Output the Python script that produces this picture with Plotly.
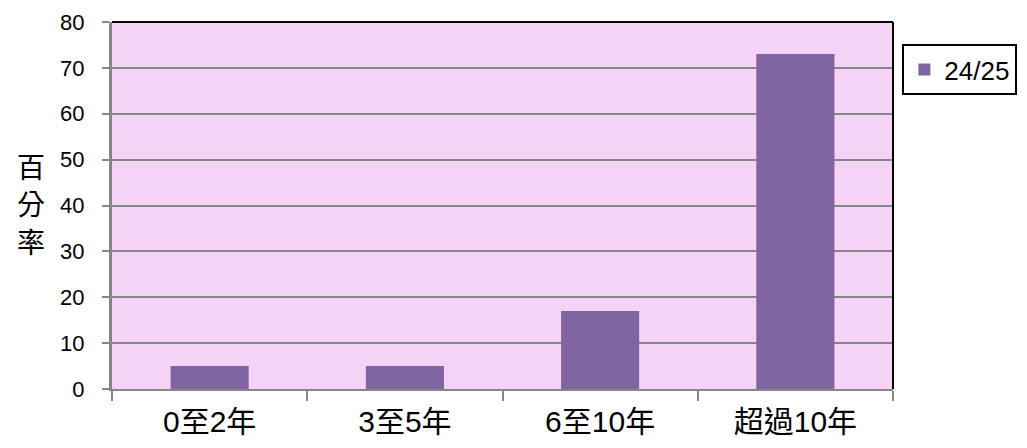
import plotly.graph_objects as go

categories = ["0至2年", "3至5年", "6至10年", "超過10年"]
values_2425 = [5, 5, 17, 73]
series_name = "24/25"
y_ticks = [0, 10, 20, 30, 40, 50, 60, 70, 80]
y_title_chars = ["百", "分", "率"]

font_fam = "Liberation Sans, Noto Sans CJK TC, sans-serif"

fig = go.Figure()
fig.add_trace(go.Bar(
    x=categories, y=values_2425, name=series_name,
    marker=dict(color="#8064A2", line=dict(width=0)),
    showlegend=True,
))

title_y = [0.608, 0.507, 0.403]
annotations = [
    dict(text=ch, xref="paper", yref="paper", x=-0.104, y=yy,
         xanchor="center", yanchor="middle", showarrow=False,
         font=dict(size=28, family="Noto Sans CJK TC"))
    for ch, yy in zip(y_title_chars, title_y)
]

fig.update_layout(
    width=1019, height=440,
    margin=dict(l=104, r=134, t=14, b=59, autoexpand=False),
    paper_bgcolor="white",
    plot_bgcolor="#F5D3F7",
    bargap=0.6,
    font=dict(family=font_fam, color="black"),
    showlegend=True,
    legend=dict(
        x=1.012, y=0.94, xanchor="left", yanchor="top",
        bordercolor="black", borderwidth=2,
        font=dict(size=26, family=font_fam),
        itemwidth=30, tracegroupgap=0,
    ),
    xaxis=dict(
        automargin=False,
        showline=True, linecolor="#868686", linewidth=2,
        ticks="outside", tickson="boundaries", ticklen=10,
        tickcolor="#868686", tickwidth=2,
        tickfont=dict(size=30, family=font_fam),
        ticklabelstandoff=5,
        showgrid=False,
    ),
    yaxis=dict(
        automargin=False,
        range=[0, 80], tickvals=y_ticks,
        showline=True, linecolor="#868686", linewidth=3,
        ticks="outside", ticklen=7, tickcolor="#868686", tickwidth=2,
        tickfont=dict(size=22), ticklabelstandoff=13,
        showgrid=True, gridcolor="#868686", gridwidth=2,
        zeroline=False,
    ),
    annotations=annotations,
    shapes=[
        dict(type="line", xref="paper", yref="paper", x0=0, x1=1, y0=1, y1=1,
             line=dict(color="black", width=2)),
        dict(type="line", xref="paper", yref="paper", x0=1, x1=1, y0=0, y1=1,
             line=dict(color="black", width=2)),
    ],
)

fig.write_html("out.html")
